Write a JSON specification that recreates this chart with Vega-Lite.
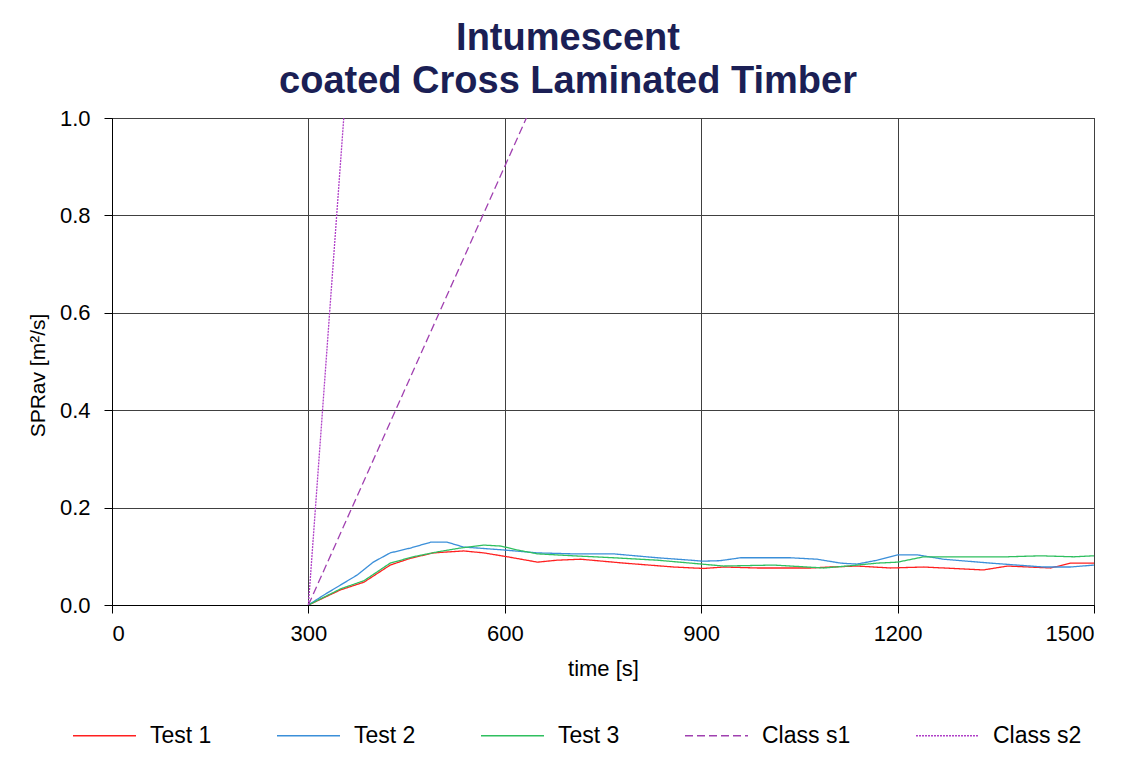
{
  "$schema": "https://vega.github.io/schema/vega-lite/v6.json",
  "autosize": {"type": "none"},
  "width": 982,
  "height": 487,
  "padding": {"left": 112, "top": 118, "right": 45, "bottom": 162},
  "background": "#ffffff",
  "title": {
    "text": ["Intumescent", "coated Cross Laminated Timber"],
    "fontSize": 38,
    "font": "Liberation Sans",
    "fontWeight": "bold",
    "color": "#1b1f55",
    "lineHeight": 43,
    "anchor": "middle",
    "dx": -35,
    "offset": 6
  },
  "config": {
    "font": "Liberation Sans",
    "view": {"stroke": "#000000", "strokeWidth": 1}
  },
  "data": {"values": [
    {"s": "Test 1", "t": 300, "v": 0.0},
    {"s": "Test 1", "t": 349, "v": 0.031},
    {"s": "Test 1", "t": 385, "v": 0.047},
    {"s": "Test 1", "t": 425, "v": 0.082},
    {"s": "Test 1", "t": 456, "v": 0.096},
    {"s": "Test 1", "t": 491, "v": 0.107},
    {"s": "Test 1", "t": 537, "v": 0.111},
    {"s": "Test 1", "t": 568, "v": 0.107},
    {"s": "Test 1", "t": 604, "v": 0.099},
    {"s": "Test 1", "t": 650, "v": 0.088},
    {"s": "Test 1", "t": 680, "v": 0.092},
    {"s": "Test 1", "t": 716, "v": 0.094},
    {"s": "Test 1", "t": 782, "v": 0.086},
    {"s": "Test 1", "t": 858, "v": 0.078},
    {"s": "Test 1", "t": 904, "v": 0.075},
    {"s": "Test 1", "t": 934, "v": 0.078},
    {"s": "Test 1", "t": 986, "v": 0.076},
    {"s": "Test 1", "t": 1067, "v": 0.076},
    {"s": "Test 1", "t": 1097, "v": 0.078},
    {"s": "Test 1", "t": 1138, "v": 0.080},
    {"s": "Test 1", "t": 1189, "v": 0.076},
    {"s": "Test 1", "t": 1240, "v": 0.078},
    {"s": "Test 1", "t": 1331, "v": 0.072},
    {"s": "Test 1", "t": 1368, "v": 0.080},
    {"s": "Test 1", "t": 1434, "v": 0.076},
    {"s": "Test 1", "t": 1464, "v": 0.086},
    {"s": "Test 1", "t": 1500, "v": 0.086},
    {"s": "Test 2", "t": 300, "v": 0.0},
    {"s": "Test 2", "t": 323, "v": 0.02},
    {"s": "Test 2", "t": 375, "v": 0.062},
    {"s": "Test 2", "t": 399, "v": 0.088},
    {"s": "Test 2", "t": 425, "v": 0.107},
    {"s": "Test 2", "t": 456, "v": 0.117},
    {"s": "Test 2", "t": 487, "v": 0.129},
    {"s": "Test 2", "t": 512, "v": 0.129},
    {"s": "Test 2", "t": 537, "v": 0.119},
    {"s": "Test 2", "t": 558, "v": 0.117},
    {"s": "Test 2", "t": 598, "v": 0.113},
    {"s": "Test 2", "t": 650, "v": 0.107},
    {"s": "Test 2", "t": 705, "v": 0.105},
    {"s": "Test 2", "t": 766, "v": 0.105},
    {"s": "Test 2", "t": 833, "v": 0.097},
    {"s": "Test 2", "t": 884, "v": 0.092},
    {"s": "Test 2", "t": 902, "v": 0.090},
    {"s": "Test 2", "t": 929, "v": 0.091},
    {"s": "Test 2", "t": 960, "v": 0.097},
    {"s": "Test 2", "t": 1036, "v": 0.097},
    {"s": "Test 2", "t": 1077, "v": 0.094},
    {"s": "Test 2", "t": 1113, "v": 0.086},
    {"s": "Test 2", "t": 1138, "v": 0.084},
    {"s": "Test 2", "t": 1169, "v": 0.092},
    {"s": "Test 2", "t": 1200, "v": 0.103},
    {"s": "Test 2", "t": 1230, "v": 0.103},
    {"s": "Test 2", "t": 1270, "v": 0.094},
    {"s": "Test 2", "t": 1342, "v": 0.086},
    {"s": "Test 2", "t": 1423, "v": 0.078},
    {"s": "Test 2", "t": 1464, "v": 0.078},
    {"s": "Test 2", "t": 1500, "v": 0.082},
    {"s": "Test 3", "t": 300, "v": 0.0},
    {"s": "Test 3", "t": 349, "v": 0.033},
    {"s": "Test 3", "t": 385, "v": 0.05},
    {"s": "Test 3", "t": 425, "v": 0.086},
    {"s": "Test 3", "t": 460, "v": 0.099},
    {"s": "Test 3", "t": 497, "v": 0.109},
    {"s": "Test 3", "t": 532, "v": 0.117},
    {"s": "Test 3", "t": 568, "v": 0.123},
    {"s": "Test 3", "t": 594, "v": 0.121},
    {"s": "Test 3", "t": 619, "v": 0.113},
    {"s": "Test 3", "t": 650, "v": 0.105},
    {"s": "Test 3", "t": 705, "v": 0.101},
    {"s": "Test 3", "t": 766, "v": 0.097},
    {"s": "Test 3", "t": 833, "v": 0.092},
    {"s": "Test 3", "t": 884, "v": 0.086},
    {"s": "Test 3", "t": 934, "v": 0.080},
    {"s": "Test 3", "t": 1011, "v": 0.082},
    {"s": "Test 3", "t": 1087, "v": 0.076},
    {"s": "Test 3", "t": 1123, "v": 0.080},
    {"s": "Test 3", "t": 1169, "v": 0.086},
    {"s": "Test 3", "t": 1200, "v": 0.088},
    {"s": "Test 3", "t": 1240, "v": 0.099},
    {"s": "Test 3", "t": 1291, "v": 0.099},
    {"s": "Test 3", "t": 1368, "v": 0.099},
    {"s": "Test 3", "t": 1418, "v": 0.101},
    {"s": "Test 3", "t": 1469, "v": 0.099},
    {"s": "Test 3", "t": 1500, "v": 0.101},
    {"s": "Class s1", "t": 300, "v": 0.0},
    {"s": "Class s1", "t": 633, "v": 1.0},
    {"s": "Class s2", "t": 300, "v": 0.0},
    {"s": "Class s2", "t": 354, "v": 1.0}
  ]},
  "mark": {"type": "line", "strokeWidth": 1.3, "clip": true},
  "encoding": {
    "x": {
      "field": "t", "type": "quantitative",
      "scale": {"domain": [0, 1500], "nice": false},
      "axis": {
        "title": "time [s]", "values": [0, 300, 600, 900, 1200, 1500], "format": "d",
        "labelFontSize": 22, "titleFontSize": 22, "titleFontWeight": "normal",
        "labelColor": "#000", "titleColor": "#000",
        "grid": true, "gridColor": "#404040", "gridOpacity": 1,
        "domainColor": "#000", "tickColor": "#000", "tickSize": 8,
        "labelPadding": 10, "titlePadding": 14
      }
    },
    "y": {
      "field": "v", "type": "quantitative",
      "scale": {"domain": [0, 1], "nice": false},
      "axis": {
        "title": "SPRav [m²/s]", "values": [0, 0.2, 0.4, 0.6, 0.8, 1.0], "format": ".1f",
        "labelFontSize": 22, "titleFontSize": 21, "titleFontWeight": "normal",
        "labelColor": "#000", "titleColor": "#000",
        "grid": true, "gridColor": "#404040", "gridOpacity": 1,
        "domainColor": "#000", "tickColor": "#000", "tickSize": 8,
        "labelPadding": 14, "titlePadding": 11, "titleY": 257
      }
    },
    "color": {
      "field": "s", "type": "nominal",
      "scale": {
        "domain": ["Test 1", "Test 2", "Test 3", "Class s1", "Class s2"],
        "range": ["#ff2020", "#3b8fd9", "#2fbf5f", "#a040b0", "#b040c8"]
      },
      "legend": {
        "title": null, "orient": "none", "direction": "horizontal", "columns": 5,
        "legendX": -40, "legendY": 585,
        "symbolType": "stroke", "symbolSize": 3969, "symbolStrokeWidth": 1.5,
        "labelFontSize": 23, "labelColor": "#000", "labelOffset": 13,
        "columnPadding": 62
      }
    },
    "strokeDash": {
      "field": "s", "type": "nominal",
      "scale": {
        "domain": ["Test 1", "Test 2", "Test 3", "Class s1", "Class s2"],
        "range": [[1, 0], [1, 0], [1, 0], [8, 4], [2, 1]]
      },
      "legend": null
    }
  }
}
